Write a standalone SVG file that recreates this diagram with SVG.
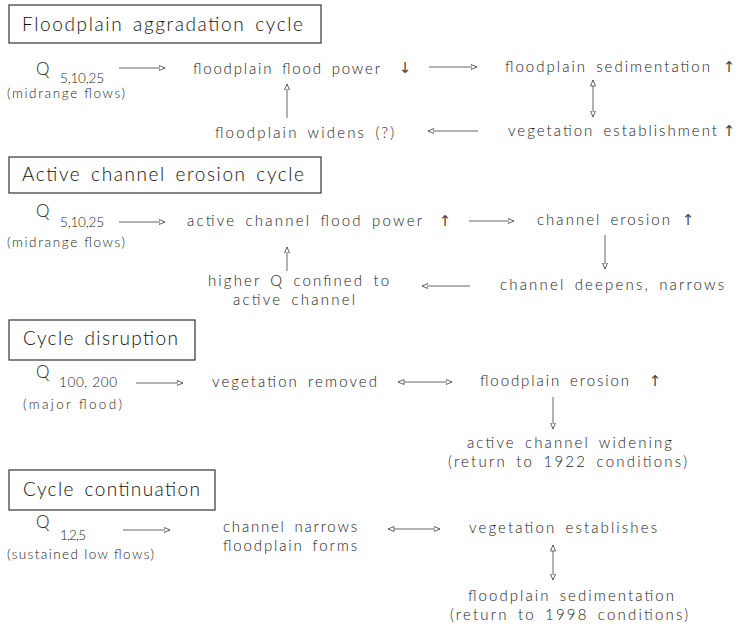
<svg xmlns="http://www.w3.org/2000/svg" width="737" height="631" viewBox="0 0 737 631">
<style>
  .bg { fill: #ffffff; }
  .box { fill: none; stroke: #333; stroke-width: 1.2; }
  .title { font-family: Lato, "Open Sans", "Liberation Sans", Arial, sans-serif; font-weight: 300; font-size: 19px; fill: #111; word-spacing: 3px; }
  .t { font-family: Lato, "Open Sans", "Liberation Sans", Arial, sans-serif; font-weight: 300; font-size: 15px; fill: #222; word-spacing: 3px; }
  .q { font-family: Lato, "Open Sans", "Liberation Sans", Arial, sans-serif; font-weight: 300; font-size: 17px; fill: #222; }
  .s { font-family: Lato, "Open Sans", "Liberation Sans", Arial, sans-serif; font-weight: 300; font-size: 13.5px; fill: #222; }
  .ar { font-family: "DejaVu Sans", sans-serif; font-weight: 400; font-size: 15px; fill: #444; text-anchor: middle; }
  .c { stroke: #666; stroke-width: 1; fill: none; }
  .e { marker-end: url(#ah); }
  .b { marker-start: url(#ahs); marker-end: url(#ah); }
</style>
<defs>
  <marker id="ah" markerUnits="userSpaceOnUse" markerWidth="8" markerHeight="8" refX="6" refY="3" orient="auto">
    <path d="M0,0.5 L6,3 L0,5.5 z" fill="#fff" stroke="#555" stroke-width="0.9"/>
  </marker>
  <marker id="ahs" markerUnits="userSpaceOnUse" markerWidth="8" markerHeight="8" refX="0" refY="3" orient="auto">
    <path d="M6,0.5 L0,3 L6,5.5 z" fill="#fff" stroke="#555" stroke-width="0.9"/>
  </marker>
</defs>
<rect class="bg" x="0" y="0" width="737" height="631"/>

<g id="connectors">
  <line class="c e" x1="119" y1="68" x2="165" y2="68"/>
  <line class="c e" x1="429" y1="67" x2="477" y2="67"/>
  <line class="c b" x1="593" y1="80" x2="593" y2="117"/>
  <line class="c e" x1="478" y1="131" x2="428" y2="131"/>
  <line class="c e" x1="287" y1="118" x2="287" y2="84"/>

  <line class="c e" x1="119" y1="222" x2="165" y2="222"/>
  <line class="c e" x1="469" y1="221" x2="514" y2="221"/>
  <line class="c e" x1="605" y1="235" x2="605" y2="269"/>
  <line class="c e" x1="470" y1="286" x2="422" y2="286"/>
  <line class="c e" x1="287" y1="271" x2="287" y2="247"/>

  <line class="c e" x1="136" y1="383" x2="183" y2="383"/>
  <line class="c b" x1="398" y1="382" x2="452" y2="382"/>
  <line class="c e" x1="553" y1="397" x2="553" y2="429"/>

  <line class="c e" x1="123" y1="530" x2="170" y2="530"/>
  <line class="c b" x1="388" y1="529" x2="440" y2="529"/>
  <line class="c b" x1="553" y1="545" x2="553" y2="580"/>
</g>

<g id="title-aggradation">
  <rect class="box" x="9" y="5" width="312" height="38"/>
  <text class="title" x="22" y="31" textLength="281" lengthAdjust="spacing">Floodplain aggradation cycle</text>
</g>
<g id="q-midrange-1">
  <text class="q" x="36" y="75">Q</text>
  <text class="s" x="60" y="83" textLength="44" lengthAdjust="spacing">5,10,25</text>
  <text class="s" x="7" y="98" textLength="118" lengthAdjust="spacing">(midrange flows)</text>
</g>
<g id="fp-flood-power">
  <text class="t" x="193" y="74" textLength="187" lengthAdjust="spacing">floodplain flood power</text>
  <text class="ar" x="405" y="73">↓</text>
</g>
<g id="fp-sedimentation">
  <text class="t" x="505" y="72" textLength="205" lengthAdjust="spacing">floodplain sedimentation</text>
  <text class="ar" x="729" y="72">↑</text>
</g>
<g id="veg-establishment">
  <text class="t" x="508" y="136" textLength="209" lengthAdjust="spacing">vegetation establishment</text>
  <text class="ar" x="729" y="136">↑</text>
</g>
<g id="fp-widens">
  <text class="t" x="215" y="138" textLength="179" lengthAdjust="spacing">floodplain widens (?)</text>
</g>

<g id="title-erosion">
  <rect class="box" x="9" y="157" width="312" height="36"/>
  <text class="title" x="22" y="181" textLength="282" lengthAdjust="spacing">Active channel erosion cycle</text>
</g>
<g id="q-midrange-2">
  <text class="q" x="36" y="217">Q</text>
  <text class="s" x="60" y="227" textLength="44" lengthAdjust="spacing">5,10,25</text>
  <text class="s" x="7" y="247" textLength="118" lengthAdjust="spacing">(midrange flows)</text>
</g>
<g id="ac-flood-power">
  <text class="t" x="187" y="226" textLength="235" lengthAdjust="spacing">active channel flood power</text>
  <text class="ar" x="445" y="226">↑</text>
</g>
<g id="channel-erosion">
  <text class="t" x="537" y="225" textLength="133" lengthAdjust="spacing">channel erosion</text>
  <text class="ar" x="688" y="225">↑</text>
</g>
<g id="channel-deepens">
  <text class="t" x="500" y="290" textLength="224" lengthAdjust="spacing">channel deepens, narrows</text>
</g>
<g id="higher-q">
  <text class="t" x="208" y="286" textLength="181" lengthAdjust="spacing">higher Q confined to</text>
  <text class="t" x="233" y="305" textLength="122" lengthAdjust="spacing">active channel</text>
</g>

<g id="title-disruption">
  <rect class="box" x="9" y="320" width="186" height="40"/>
  <text class="title" x="23" y="345" textLength="155" lengthAdjust="spacing">Cycle disruption</text>
</g>
<g id="q-major">
  <text class="q" x="36" y="378">Q</text>
  <text class="s" x="59" y="387" textLength="58" lengthAdjust="spacing">100, 200</text>
  <text class="s" x="23" y="409" textLength="99" lengthAdjust="spacing">(major flood)</text>
</g>
<g id="veg-removed">
  <text class="t" x="212" y="387" textLength="165" lengthAdjust="spacing">vegetation removed</text>
</g>
<g id="fp-erosion">
  <text class="t" x="480" y="386" textLength="149" lengthAdjust="spacing">floodplain erosion</text>
  <text class="ar" x="655" y="386">↑</text>
</g>
<g id="ac-widening">
  <text class="t" x="467" y="448" textLength="205" lengthAdjust="spacing">active channel widening</text>
  <text class="t" x="448" y="467" textLength="239" lengthAdjust="spacing">(return to 1922 conditions)</text>
</g>

<g id="title-continuation">
  <rect class="box" x="9" y="470" width="206" height="40"/>
  <text class="title" x="23" y="496" textLength="177" lengthAdjust="spacing">Cycle continuation</text>
</g>
<g id="q-low">
  <text class="q" x="36" y="528">Q</text>
  <text class="s" x="60" y="540" textLength="26" lengthAdjust="spacing">1,2,5</text>
  <text class="s" x="7" y="559" textLength="147" lengthAdjust="spacing">(sustained low flows)</text>
</g>
<g id="channel-narrows">
  <text class="t" x="223" y="532" textLength="134" lengthAdjust="spacing">channel narrows</text>
  <text class="t" x="223" y="551" textLength="134" lengthAdjust="spacing">floodplain forms</text>
</g>
<g id="veg-establishes">
  <text class="t" x="469" y="533" textLength="188" lengthAdjust="spacing">vegetation establishes</text>
</g>
<g id="fp-sedimentation-2">
  <text class="t" x="468" y="601" textLength="206" lengthAdjust="spacing">floodplain sedimentation</text>
  <text class="t" x="450" y="620" textLength="238" lengthAdjust="spacing">(return to 1998 conditions)</text>
</g>
</svg>
